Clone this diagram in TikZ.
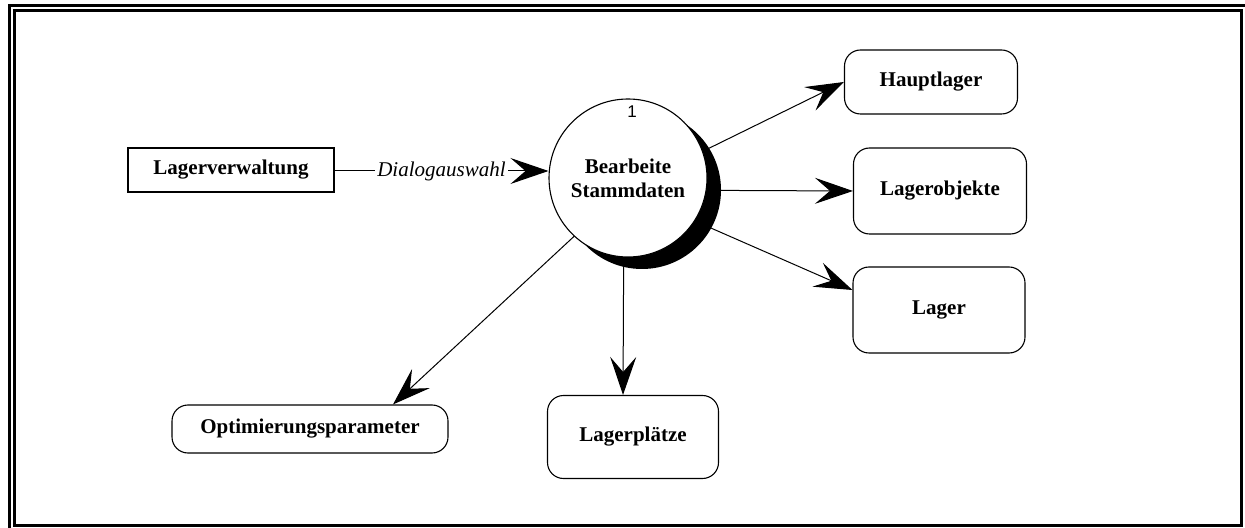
\documentclass[tikz,border=0pt]{standalone}
\usepackage{fontspec}
\setmainfont{Liberation Serif}
\newfontfamily\numfont{Liberation Sans}
\usetikzlibrary{arrows.meta}
\pgfdeclarelayer{flows}
\pgfdeclarelayer{shade}
\pgfsetlayers{flows,shade,main}

\begin{document}
\begin{tikzpicture}[x=0.5pt,y=-0.5pt,
  lbl/.style={font=\bfseries\fontsize{10.5}{12}\selectfont, align=center},
  store/.style={lbl, draw, line width=0.55pt, rounded corners=8pt, fill=white, inner sep=0pt},
  terminator/.style={lbl, draw, line width=0.55pt, fill=white, inner sep=0pt},
  process/.style={lbl, circle, draw, line width=0.55pt, fill=white, inner sep=0pt, minimum size=79pt},
  flow/.style={line width=0.5pt, -{Stealth[length=19pt,width=13pt,inset=7.5pt]}},
  frame/.style={line width=1.5pt},
]
\useasboundingbox (0,0) rectangle (1245,528);

% double frame
\draw[frame] (9,528) -- (9,6) -- (1245,6);
\draw[frame] (14,11) rectangle (1241.5,525.5);

% nodes
\node[terminator, minimum width=103pt, minimum height=22pt] (lv) at (231,170) {Lagerverwaltung};
\node[process] (p) at (628,178) {Bearbeite\\Stammdaten};
\node[font=\numfont\fontsize{8.5}{10}\selectfont] (pn) at (632,112) {1};
\node[store, minimum width=86.5pt, minimum height=32pt] (hl) at (931,82) {Hauptlager};
\node[store, minimum width=86.5pt, minimum height=43pt] (lo) at (940,191) {Lagerobjekte};
\node[store, minimum width=86pt, minimum height=43pt] (lg) at (939,310) {Lager};
\node[store, minimum width=85.5pt, minimum height=41.5pt] (lp) at (633,437) {Lagerpl\"atze};
\node[store, minimum width=138pt, minimum height=24pt] (op) at (310,429) {Optimierungsparameter};
\coordinate (hub) at (624,190);

% incoming flow
\draw[flow] (lv.east |- 0,171) -- (p.west |- 0,171)
  node[midway, fill=white, inner sep=1pt, font=\itshape\fontsize{10.5}{12}\selectfont] {Dialogauswahl};

% outgoing flows, drawn beneath the process bubble
\begin{pgfonlayer}{flows}
  \draw[flow] (hub) -- (hl.west);
  \draw[flow] (hub) -- (lo.west);
  \draw[flow] (hub) -- ([yshift=10pt]lg.west);
  \draw[flow] (hub) -- ([xshift=-5pt]lp.north);
  \draw[flow] (hub) -- ([xshift=41.5pt]op.north);
\end{pgfonlayer}

% shadow of the process bubble
\begin{pgfonlayer}{shade}
  \fill[black] ([shift={(14,12)}]p.center) circle[radius=39.5pt];
\end{pgfonlayer}
\end{tikzpicture}
\end{document}
